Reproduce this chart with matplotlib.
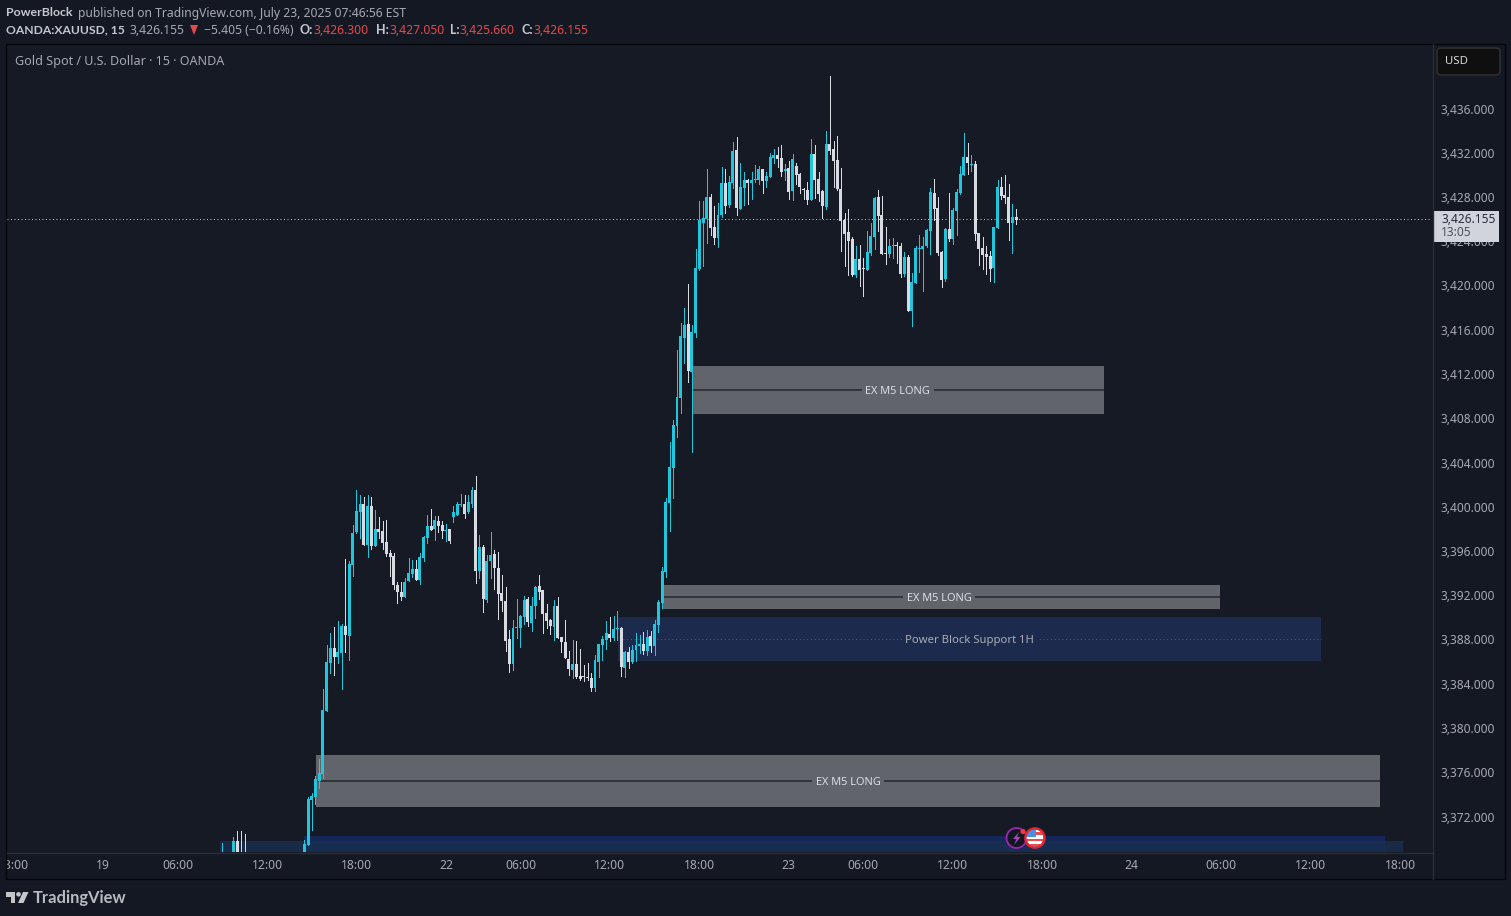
import numpy as np
import matplotlib
matplotlib.use("Agg")
import matplotlib.pyplot as plt
from matplotlib.patches import Rectangle, Circle, Polygon, FancyBboxPatch
from matplotlib.transforms import ScaledTranslation

nan = float("nan")
W, H = 1511, 916

# ---------- data ----------
# the direction of each bar, ten per row (u rising, d falling, n off-scale)
direction = (
    "unnudddnnn"
    "nnnnnnnnnn"
    "nnuuuuuuuu"
    "duuduuuudu"
    "dudddddddu"
    "uuduuududd"
    "uduuuduudu"
    "duuddddduu"
    "uuduuddddu"
    "dddduddddd"
    "uuuuduudud"
    "uuududuuuu"
    "uuuuuduuuu"
    "udduuduudu"
    "uduuuduuud"
    "dududdddud"
    "dduddddddd"
    "udduuudddu"
    "uddud" "uuuuu"
    "uddduduuuu"
    "dudddddu" "ud"
    "ddud"
)

body_top = [
    3368.20, nan, nan, 3369.83, 3369.83, 3368.50, 3368.50, nan, nan, nan,
    nan, nan, nan, nan, nan, nan, nan, nan, nan, nan,
    nan, nan, 3369.57, 3373.63, 3373.90, 3375.44, 3375.98, 3381.68, 3386.01, 3387.28,
    3387.28, 3386.92, 3389.27, 3389.27, 3394.87, 3397.68, 3399.66, 3400.30, 3400.30, 3400.12,
    3400.12, 3398.04, 3398.04, 3397.86, 3396.86, 3395.87, 3395.60, 3392.98, 3392.34, 3393.25,
    3394.06, 3394.42, 3394.42, 3395.51, 3397.31, 3398.31, 3398.31, 3398.85, 3398.76, 3398.40,
    3397.95, 3398.04, 3399.57, 3400.30, 3400.30, 3400.30, 3400.48, 3401.56, 3401.56, 3396.41,
    3396.41, 3395.14, 3395.69, 3395.78, 3394.51, 3392.25, 3391.53, 3388.09, 3389.09, 3389.18,
    3390.17, 3391.62, 3391.71, 3391.08, 3392.79, 3392.88, 3392.52, 3390.44, 3389.81, 3391.08,
    3391.08, 3388.27, 3387.82, 3386.29, 3385.83, 3385.83, 3384.75, 3384.75, 3384.66, 3384.57,
    3386.20, 3387.64, 3388.09, 3388.64, 3388.55, 3389.00, 3389.09, 3389.09, 3386.92, 3386.92,
    3387.10, 3387.55, 3387.64, 3387.64, 3388.27, 3388.37, 3389.45, 3391.44, 3394.24, 3400.48,
    3403.64, 3407.44, 3409.97, 3415.48, 3416.48, 3416.57, 3415.84, 3421.63, 3426.00, 3426.15,
    3428.05, 3428.05, 3425.33, 3426.42, 3429.31, 3429.31, 3429.40, 3432.20, 3432.29, 3428.95,
    3429.58, 3429.58, 3429.58, 3429.67, 3430.58, 3430.58, 3429.94, 3431.66, 3431.84, 3431.84,
    3431.57, 3430.58, 3430.67, 3431.48, 3430.85, 3430.12, 3428.77, 3428.68, 3431.93, 3431.93,
    3429.67, 3428.59, 3432.83, 3432.83, 3432.39, 3431.39, 3428.77, 3425.97, 3424.88, 3424.25,
    3422.44, 3422.44, 3421.63, 3423.07, 3424.52, 3427.96, 3428.05, 3426.42, 3422.95, 3423.62,
    3423.71, 3423.71, 3423.62, 3422.62, 3422.62, 3420.36, 3423.44, 3423.44, 3423.62, 3425.06,
    3428.50, 3428.41, 3427.05, 3423.07, 3425.15, 3425.15, 3426.87, 3428.50, 3430.12, 3431.66,
    3431.66, 3431.03, 3431.03, 3424.79, 3423.44, 3422.89, 3422.71, 3425.33, 3428.95, 3428.95,
    3428.23, 3428.05, 3426.24, 3426.24,
]
body_bottom = [
    3367.60, nan, nan, 3368.00, 3368.00, 3367.60, 3367.60, nan, nan, nan,
    nan, nan, nan, nan, nan, nan, nan, nan, nan, nan,
    nan, nan, 3368.00, 3369.47, 3373.54, 3373.81, 3375.26, 3375.89, 3381.59, 3385.92,
    3386.47, 3386.47, 3386.83, 3388.46, 3388.37, 3394.78, 3397.77, 3399.57, 3396.59, 3396.59,
    3396.50, 3396.50, 3397.77, 3396.77, 3395.78, 3395.51, 3392.98, 3392.34, 3391.89, 3391.89,
    3393.34, 3393.97, 3393.43, 3393.43, 3395.42, 3397.22, 3397.95, 3398.04, 3398.31, 3397.86,
    3397.86, 3396.95, 3399.12, 3399.30, 3400.21, 3399.39, 3399.57, 3400.30, 3394.24, 3394.24,
    3391.71, 3391.62, 3395.14, 3394.51, 3392.16, 3391.53, 3387.91, 3385.83, 3385.83, 3389.09,
    3389.09, 3390.08, 3389.63, 3389.54, 3391.08, 3392.34, 3390.35, 3389.72, 3389.27, 3389.18,
    3388.18, 3387.82, 3386.38, 3385.38, 3385.29, 3384.66, 3384.48, 3384.66, 3384.57, 3383.67,
    3383.67, 3386.01, 3387.55, 3388.00, 3388.18, 3388.18, 3389.00, 3385.56, 3385.47, 3386.01,
    3386.01, 3387.10, 3387.46, 3387.01, 3387.01, 3387.46, 3387.46, 3389.36, 3391.35, 3394.15,
    3400.38, 3403.55, 3407.35, 3409.87, 3415.30, 3412.32, 3412.23, 3415.75, 3421.54, 3425.70,
    3426.06, 3425.24, 3424.34, 3424.34, 3426.42, 3427.23, 3427.32, 3429.31, 3427.05, 3426.96,
    3428.86, 3429.31, 3429.31, 3429.58, 3429.58, 3429.49, 3429.49, 3429.85, 3431.57, 3431.48,
    3430.30, 3430.39, 3428.50, 3428.59, 3430.03, 3428.95, 3428.68, 3427.77, 3427.77, 3429.58,
    3428.32, 3427.23, 3427.14, 3432.20, 3431.30, 3428.77, 3425.88, 3424.70, 3424.07, 3420.99,
    3420.99, 3421.45, 3421.54, 3421.45, 3422.98, 3424.43, 3426.33, 3422.89, 3422.89, 3422.89,
    3423.65, 3423.65, 3421.09, 3421.09, 3417.74, 3417.74, 3420.27, 3423.38, 3423.35, 3423.62,
    3424.97, 3426.96, 3422.98, 3420.54, 3420.63, 3424.25, 3424.25, 3426.78, 3428.41, 3430.03,
    3431.12, 3430.97, 3424.70, 3423.34, 3422.80, 3422.62, 3421.54, 3421.63, 3425.24, 3428.14,
    3427.96, 3425.70, 3425.70, 3425.97,
]
wick_high = [
    3369.62, nan, nan, 3370.17, 3370.74, 3370.74, 3370.47, nan, nan, nan,
    nan, nan, nan, nan, nan, nan, nan, nan, nan, nan,
    nan, nan, 3369.93, 3373.81, 3374.17, 3375.71, 3377.25, 3383.57, 3387.55, 3388.64,
    3389.18, 3389.72, 3389.45, 3395.33, 3395.14, 3398.40, 3401.56, 3401.11, 3400.93, 3401.11,
    3400.93, 3399.75, 3399.12, 3398.76, 3398.85, 3396.14, 3395.87, 3393.25, 3393.25, 3393.61,
    3395.42, 3395.24, 3395.24, 3395.87, 3397.40, 3399.30, 3399.85, 3399.21, 3399.21, 3398.76,
    3398.49, 3398.04, 3400.12, 3400.48, 3401.20, 3401.11, 3401.11, 3401.83, 3402.83, 3397.49,
    3396.59, 3395.69, 3397.77, 3396.14, 3395.96, 3393.88, 3392.79, 3388.91, 3389.81, 3391.71,
    3390.26, 3391.98, 3391.89, 3391.89, 3392.88, 3393.88, 3392.52, 3391.26, 3389.90, 3391.62,
    3391.89, 3388.27, 3389.81, 3387.01, 3388.00, 3387.91, 3387.19, 3385.74, 3385.92, 3385.02,
    3386.65, 3387.64, 3388.37, 3389.72, 3390.08, 3390.17, 3390.62, 3389.18, 3387.01, 3387.37,
    3387.55, 3388.64, 3388.46, 3388.73, 3388.91, 3388.82, 3389.81, 3391.62, 3394.60, 3400.84,
    3405.90, 3407.89, 3414.21, 3416.66, 3418.01, 3420.18, 3416.45, 3423.35, 3427.68, 3427.68,
    3430.58, 3428.32, 3427.23, 3427.50, 3430.76, 3430.58, 3429.94, 3433.02, 3433.47, 3431.12,
    3430.30, 3429.67, 3430.30, 3430.94, 3430.85, 3430.58, 3430.30, 3432.02, 3432.38, 3432.56,
    3432.75, 3431.03, 3431.30, 3431.93, 3431.12, 3430.21, 3428.86, 3429.40, 3433.29, 3432.75,
    3430.30, 3428.68, 3434.01, 3438.98, 3433.11, 3433.56, 3430.67, 3426.60, 3426.96, 3424.43,
    3423.60, 3423.71, 3422.53, 3424.97, 3425.70, 3428.05, 3428.68, 3428.14, 3425.33, 3424.25,
    3424.34, 3423.98, 3423.89, 3423.07, 3422.80, 3421.18, 3423.62, 3424.61, 3424.43, 3425.15,
    3428.86, 3429.67, 3428.05, 3423.17, 3425.24, 3428.41, 3427.05, 3428.77, 3430.85, 3433.83,
    3432.93, 3431.84, 3431.30, 3424.79, 3424.43, 3423.62, 3423.17, 3425.33, 3429.58, 3429.85,
    3430.03, 3429.22, 3427.41, 3426.96,
]
wick_low = [
    3367.20, nan, nan, 3367.50, 3367.50, 3367.20, 3367.20, nan, nan, nan,
    nan, nan, nan, nan, nan, nan, nan, nan, nan, nan,
    nan, nan, 3367.60, 3369.47, 3370.83, 3373.18, 3374.63, 3375.53, 3381.59, 3385.02,
    3384.84, 3385.92, 3383.57, 3386.92, 3386.20, 3393.79, 3397.68, 3397.22, 3396.59, 3395.51,
    3396.23, 3396.50, 3397.22, 3396.23, 3395.60, 3393.79, 3392.61, 3391.35, 3391.62, 3391.89,
    3393.34, 3393.70, 3393.43, 3393.07, 3395.14, 3396.77, 3397.95, 3397.04, 3397.77, 3397.22,
    3396.95, 3396.77, 3398.67, 3399.30, 3400.12, 3399.03, 3399.48, 3400.03, 3393.16, 3393.61,
    3390.53, 3391.44, 3393.61, 3392.61, 3389.90, 3390.62, 3387.01, 3385.11, 3385.29, 3388.18,
    3387.37, 3389.45, 3389.27, 3388.82, 3389.99, 3391.71, 3388.64, 3389.09, 3388.55, 3388.00,
    3388.18, 3386.92, 3386.38, 3384.84, 3384.57, 3384.57, 3384.39, 3384.30, 3384.39, 3383.39,
    3383.39, 3384.66, 3386.20, 3387.19, 3387.91, 3388.00, 3388.00, 3384.75, 3384.66, 3385.47,
    3385.92, 3386.10, 3386.83, 3386.74, 3386.65, 3386.92, 3386.65, 3388.73, 3390.90, 3393.70,
    3397.85, 3400.84, 3406.35, 3408.52, 3413.04, 3411.33, 3405.00, 3415.39, 3421.45, 3421.81,
    3423.89, 3424.61, 3423.80, 3423.53, 3426.24, 3426.60, 3427.14, 3428.86, 3426.42, 3426.96,
    3427.32, 3427.41, 3427.86, 3429.40, 3429.22, 3428.41, 3428.95, 3429.85, 3431.12, 3430.76,
    3429.94, 3429.58, 3427.86, 3427.77, 3429.22, 3428.41, 3427.86, 3427.41, 3427.77, 3427.95,
    3427.68, 3426.15, 3426.96, 3431.93, 3428.95, 3428.68, 3423.16, 3421.81, 3421.00, 3420.91,
    3420.81, 3420.00, 3419.10, 3421.45, 3422.80, 3423.35, 3424.97, 3422.89, 3421.99, 3422.62,
    3422.53, 3422.08, 3420.81, 3420.91, 3417.74, 3416.39, 3420.27, 3421.27, 3419.55, 3423.53,
    3422.89, 3425.97, 3422.80, 3419.91, 3420.45, 3424.07, 3423.80, 3424.61, 3428.32, 3430.03,
    3430.12, 3430.40, 3424.16, 3421.90, 3421.54, 3421.09, 3420.45, 3420.36, 3425.24, 3427.87,
    3427.50, 3424.16, 3422.98, 3425.61,
]

price_ticks = list(range(3372, 3437, 4))
time_labels = ["18:00", "19", "06:00", "12:00", "18:00", "22", "06:00", "12:00", "18:00",
               "23", "06:00", "12:00", "18:00", "24", "06:00", "12:00", "18:00"]
time_label_bars = [-56, -32, -12, 12, 36, 60, 80, 104, 128, 152, 172, 196, 220, 244, 268, 292, 316]

gray_zone_start = [126.0, 118.2, 25.1]
gray_zone_end = [236.6, 267.7, 310.6]
gray_zone_top = [3412.77, 3392.97, 3377.60]
gray_zone_bottom = [3408.43, 3390.80, 3372.90]
gray_zone_mid = [3410.60, 3391.89, 3375.25]
gray_zone_text = ["EX M5 LONG", "EX M5 LONG", "EX M5 LONG"]
gray_zone_text_at = [181.2, 192.3, 167.9]

support_start, support_end = 106.2, 294.8
support_top, support_bottom, support_mid = 3390.08, 3386.10, 3388.09
support_text = "Power Block Support 1H"

low_zone_start = [22.0, -0.6]
low_zone_end = [312.0, 316.8]
low_zone_top = [3370.28, 3369.83]
low_zone_bottom = [3366.0, 3366.0]

last_price_text = "3,426.155"
last_price_level = 3426.05

# ---------- colours ----------
BG = "#141823"
PANE = "#161a25"
CYAN = "#1fc6dc"
WHITE = "#d9dbe3"
TICK = "#a6a9b1"
RED = "#e5484d"
BOLD = "#c6c8d0"

FONT = "Noto Sans"
plt.rcParams["font.family"] = [FONT, "DejaVu Sans"]

fig = plt.figure(figsize=(W / 100, H / 100), dpi=100, facecolor=BG)

def px_axes(x0, y0, x1, y1, **kw):
    return fig.add_axes([x0 / W, 1 - y1 / H, (x1 - x0) / W, (y1 - y0) / H], **kw)

# x scale in bars, y scale in price
bar_px, first_px = 3.727, 222.3
ppu, ref_y, ref_p = 11.0625, 109.0, 3436.0
L, R, T, B = 7, 1432, 44, 852
xlim = ((L - first_px) / bar_px, (R - first_px) / bar_px)
ylim = (ref_p - (B - ref_y) / ppu, ref_p - (T - ref_y) / ppu)

ax = px_axes(L, T, R, B, facecolor=PANE)
ax.set_xlim(*xlim)
ax.set_ylim(*ylim)
for s in ax.spines.values():
    s.set_visible(False)
ax.set_xticks([])
ax.set_yticks(price_ticks)
ax.set_yticklabels([f"{p:,.3f}" for p in price_ticks], color=TICK, fontsize=8.6)
ax.yaxis.tick_right()
ax.tick_params(axis="y", length=0, pad=6.2)
lift = ScaledTranslation(0, 0.5 / 100, fig.dpi_scale_trans)
for lab in ax.get_yticklabels():
    lab.set_transform(lab.get_transform() + lift)

# low zones, clipped by the pane
for x0, x1, t, b, c, a in zip(low_zone_start, low_zone_end, low_zone_top, low_zone_bottom,
                              ["#152a63", "#1a3050"], [0.85, 0.75]):
    ax.add_patch(Rectangle((x0, b), x1 - x0, t - b, facecolor=c, alpha=a, linewidth=0, zorder=1))

def zone_label(x, y, s, color, face, fs):
    ax.annotate(s, (x, y), xytext=(0, -0.8), textcoords="offset points", color=color, fontsize=fs,
                ha="center", va="center", zorder=1.6,
                bbox=dict(facecolor=face, edgecolor="none", pad=2.5))

# support zone
ax.add_patch(Rectangle((support_start, support_bottom), support_end - support_start,
                       support_top - support_bottom, facecolor="#1c2b4d", linewidth=0, zorder=1))
ax.plot([support_start + 1.3, support_end], [support_mid, support_mid], color="#4a5878",
        lw=0.75, dashes=(1, 2.6), zorder=1.5)
zone_label((support_start + support_end) / 2, support_mid, support_text, "#a8abb3", "#1c2b4d", 8.1)

# gray zones
for x0, x1, t, b, m, s, at in zip(gray_zone_start, gray_zone_end, gray_zone_top, gray_zone_bottom,
                                  gray_zone_mid, gray_zone_text, gray_zone_text_at):
    ax.add_patch(Rectangle((x0, b), x1 - x0, t - b, facecolor="#62646b", linewidth=0, zorder=1))
    ax.plot([x0, x1], [m, m], color="#333437", lw=1.4, solid_capstyle="butt", zorder=1.5)
    zone_label(at, m, s, "#dcdde1", "#62646b", 7.9)

# last price line
ax.axhline(last_price_level, color="#c8cad2", lw=0.7, dashes=(1, 2.6), zorder=1.8)

# candles
idx = np.arange(len(body_top))
assert len(direction) == len(body_top) == len(body_bottom) == len(wick_high) == len(wick_low), (
    len(direction), len(body_top), len(body_bottom), len(wick_high), len(wick_low))
cols = [CYAN if d == "u" else WHITE for d in direction]
ax.vlines(idx, wick_low, wick_high, colors=cols, linewidth=0.68, antialiased=False, zorder=3)
ax.bar(idx, np.array(body_top) - np.array(body_bottom), bottom=body_bottom, width=0.8,
       color=cols, linewidth=0, antialiased=False, zorder=4)

# time axis strip
tx = px_axes(L, B, R, 879, facecolor=BG)
tx.set_xlim(*xlim)
tx.set_ylim(0, 1)
tx.axis("off")
for b_, s in zip(time_label_bars, time_labels):
    tx.text(b_, 0.49, s, color=TICK, fontsize=8.7, ha="center", va="center", clip_on=True)

# furniture in pixel coordinates
fx = px_axes(0, 0, W, H)
fx.set_xlim(0, W)
fx.set_ylim(H, 0)
fx.axis("off")
fx.patch.set_alpha(0)

fx.plot([L, 1432.5], [852.5, 852.5], color="#2a2e39", lw=1)
fx.plot([1432.5, 1432.5], [44, 879], color="#2a2e39", lw=1)
fx.add_patch(Rectangle((6, 43.5), 1499, 835.5, fill=False, edgecolor="#05060a", lw=1))
fx.add_patch(FancyBboxPatch((1437, 48), 63, 27, boxstyle="round,pad=0,rounding_size=4",
                            facecolor="#0f0f0f", edgecolor="#2e2e2e", lw=1.2))
fx.text(1445, 62, "USD", color="#d8d9dd", fontsize=8.2, va="center")

fx.add_patch(Rectangle((1433, 211), 66, 31, facecolor="#d1d4dc", linewidth=0))
fx.text(1441, 219.5, last_price_text, color="#2a2e39", fontsize=8.6, va="center")
fx.text(1441, 233, "13:05", color="#50535e", fontsize=8.6, va="center")

def put(x, y, s, c=TICK, w="normal", fs=8.75, fam=None):
    fx.text(x, y, s, color=c, fontsize=fs, fontweight=w, va="center", ha="left",
            family=fam if fam else FONT)

put(6, 13, "PowerBlock", BOLD, "bold", 8.95, "Lato")
put(78, 13, "published on TradingView.com, July 23, 2025 07:46:56 EST")
put(6, 30, "OANDA:XAUUSD, 15", BOLD, "bold", 8.75, "Lato")
put(130, 30, last_price_text)
fx.add_patch(Polygon([(190, 25), (198, 25), (194, 35)], facecolor=RED, linewidth=0))
put(204, 30, "−5.405 (−0.16%)")
for x, lab, xv, val in [(300, "O:", 314, "3,426.300"), (376, "H:", 389, "3,427.050"),
                        (450, "L:", 460, "3,425.660"), (521, "C:", 533, "3,426.155")]:
    put(x, 30, lab, BOLD, "bold", 9.0, "Lato")
    put(xv, 30, val, RED)
put(15, 61, "Gold Spot / U.S. Dollar · 15 · OANDA", "#a6a9b1", "normal", 9.05)

# event icons
fx.add_patch(Circle((1016.5, 838), 10, facecolor="#131722", edgecolor="#9c27b0", lw=1.3, zorder=5))
fx.add_patch(Polygon([(1019, 832), (1013, 839), (1016.5, 839), (1014, 845), (1020.5, 837),
                      (1017, 837)], facecolor="#ab47bc", linewidth=0, zorder=6))
fx.add_patch(Circle((1023, 831.5), 2.6, facecolor="#f23645", linewidth=0, zorder=7))
disc = Circle((1035, 838), 8.5, facecolor="white", linewidth=0, zorder=8)
fx.add_patch(disc)
for yy in (832, 838.5, 843.5):
    r = Rectangle((1025, yy), 20, 2.4 if yy > 840 else 2.6, facecolor="#e84c4f", linewidth=0, zorder=9)
    fx.add_patch(r)
    r.set_clip_path(disc)
can = Rectangle((1025, 829), 10.5, 8, facecolor="#4a90e2", linewidth=0, zorder=10)
fx.add_patch(can)
can.set_clip_path(disc)
fx.add_patch(Circle((1035, 838), 9.7, fill=False, edgecolor="#e8252f", lw=1.6, zorder=11))

# logo
LOGO = "#c4c6cc"
fx.add_patch(Polygon([(6, 892), (15, 892), (15, 903), (10.5, 903), (10.5, 896.5), (6, 896.5)],
                     facecolor=LOGO, linewidth=0))
fx.add_patch(Circle((18.5, 894.3), 2.3, facecolor=LOGO, linewidth=0))
fx.add_patch(Polygon([(23, 892), (28.5, 892), (23.5, 903), (18, 903)], facecolor=LOGO, linewidth=0))
fx.text(33, 897.5, "TradingView", color="#b8bac1", fontsize=11.9, fontweight="bold",
        family="Lato", va="center", ha="left")

fig.savefig("out.png", dpi=100, facecolor=BG)
